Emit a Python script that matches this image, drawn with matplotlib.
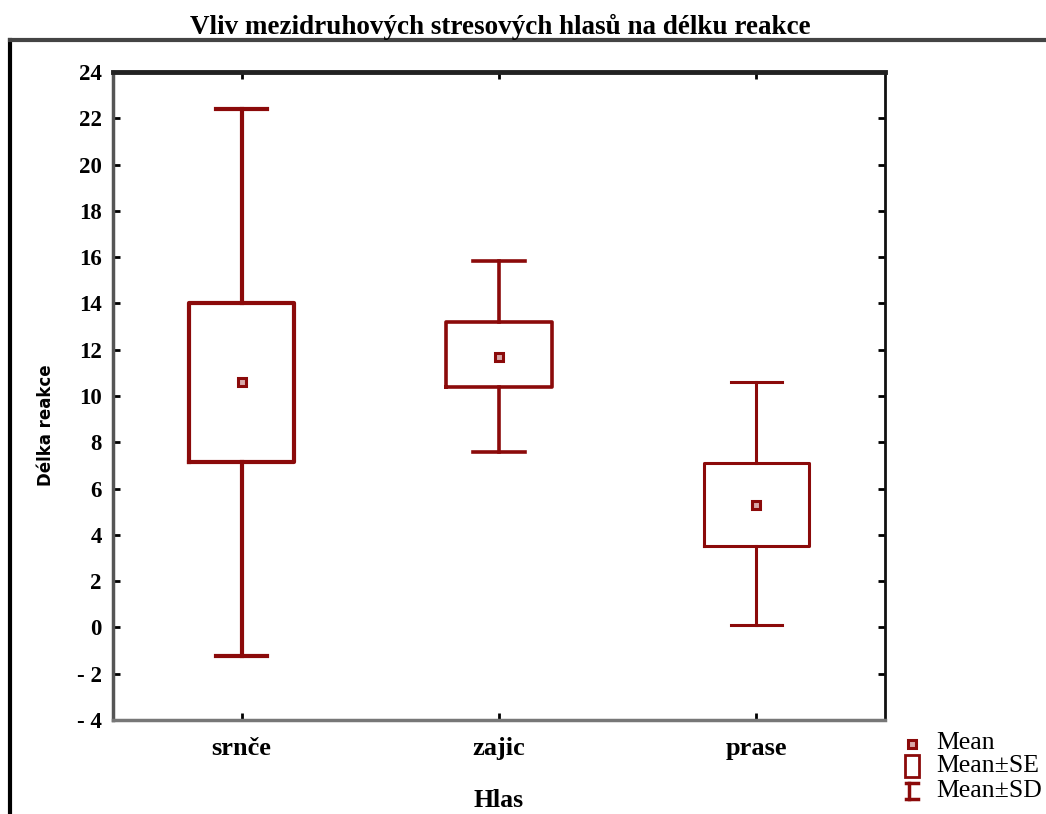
import matplotlib.pyplot as plt
from matplotlib.lines import Line2D
from matplotlib.patches import Rectangle

categories = ['srnče', 'zajic', 'prase']
means = [10.6, 11.7, 5.3]
se_low = [7.15, 10.4, 3.5]
se_high = [14.0, 13.2, 7.1]
sd_low = [-1.25, 7.6, 0.1]
sd_high = [22.4, 15.85, 10.6]
yticks = [-4, -2, 0, 2, 4, 6, 8, 10, 12, 14, 16, 18, 20, 22, 24]

red = '#8b0a0a'
serif = 'Liberation Serif'

fig = plt.figure(figsize=(10.46, 8.14), dpi=100)
ax = fig.add_axes([0.108, 0.1155, 0.738, 0.796])

stats = []
for i in range(len(categories)):
    stats.append({'med': means[i], 'q1': se_low[i], 'q3': se_high[i],
                  'whislo': sd_low[i], 'whishi': sd_high[i],
                  'mean': means[i], 'fliers': [], 'label': categories[i]})

lw = [3.0, 2.6, 2.2]
for i, s in enumerate(stats):
    ax.bxp([s], positions=[i], widths=0.41, capwidths=0.2, showmeans=True,
           showfliers=False,
           boxprops=dict(color=red, linewidth=lw[i]),
           whiskerprops=dict(color=red, linewidth=lw[i]),
           capprops=dict(color=red, linewidth=lw[i]),
           medianprops=dict(linewidth=0),
           meanprops=dict(marker='s', markersize=6, markerfacecolor='#d8a8a8',
                          markeredgecolor=red, markeredgewidth=2.2))

ax.set_xlim(-0.5, 2.5)
ax.set_ylim(-4, 24)
ax.set_yticks(yticks)
ax.set_yticklabels([('- %d' % -v) if v < 0 else str(v) for v in yticks],
                   fontfamily=serif, fontweight='bold', fontsize=16.5)
ax.set_xticks(range(len(categories)))
ax.set_xticklabels(categories, fontfamily=serif, fontweight='bold', fontsize=19)
ax.tick_params(axis='y', direction='in', left=True, right=True, length=5, width=2, pad=8)
ax.tick_params(axis='x', direction='in', top=True, bottom=True, length=5, width=2, pad=12)

ax.spines['top'].set_linewidth(3.5)
ax.spines['top'].set_color('#222222')
ax.spines['right'].set_linewidth(2)
ax.spines['right'].set_color('#111111')
ax.spines['left'].set_linewidth(2.5)
ax.spines['left'].set_color('#555555')
ax.spines['bottom'].set_linewidth(2.5)
ax.spines['bottom'].set_color('#777777')

ax.set_ylabel('Délka reakce', fontfamily='DejaVu Sans', fontweight='bold', fontsize=12)
ax.yaxis.set_label_coords(-0.075, 0.455)
ax.set_xlabel('Hlas', fontfamily=serif, fontweight='bold', fontsize=18.5, labelpad=21)

fig.text(0.478, 0.967, 'Vliv mezidruhových stresových hlasů na délku reakce',
         ha='center', va='center', fontfamily=serif, fontweight='bold', fontsize=19.5)

# outer frame
fig.add_artist(Line2D([0.0096, 0.0096], [0.0, 0.951], color='black', linewidth=3))
fig.add_artist(Line2D([0.0096, 1.0], [0.951, 0.951], color='#444444', linewidth=3))

# legend
lx = 0.872
fig.add_artist(Line2D([lx], [0.086], marker='s', markersize=6, markerfacecolor='#d8a8a8',
                      markeredgecolor=red, markeredgewidth=2.2, linestyle='none'))
fig.add_artist(Rectangle((lx - 0.0065, 0.046), 0.013, 0.026, fill=False,
                         edgecolor=red, linewidth=2, transform=fig.transFigure))
fig.add_artist(Line2D([lx - 0.006, lx + 0.006], [0.038, 0.038], color=red, linewidth=2.5))
fig.add_artist(Line2D([lx - 0.006, lx + 0.006], [0.018, 0.018], color=red, linewidth=2.5))
fig.add_artist(Line2D([lx - 0.003, lx - 0.003], [0.018, 0.038], color=red, linewidth=2.5))
for y, t in zip([0.087, 0.059, 0.028], ['Mean', 'Mean±SE', 'Mean±SD']):
    fig.text(0.895, y, t, ha='left', va='center', fontfamily=serif, fontsize=18.5)

fig.savefig('out.png', dpi=100)
